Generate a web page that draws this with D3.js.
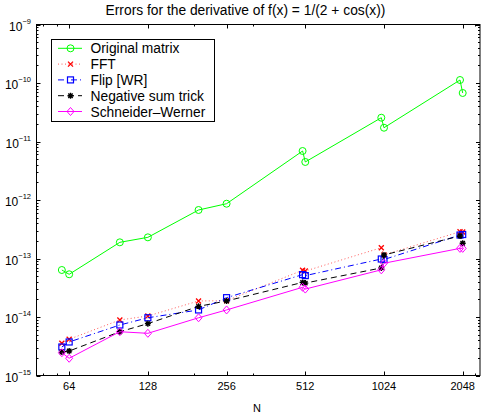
<!DOCTYPE html>
<html>
  <head>
    <title>Errors for the derivative</title>
    <script src="https://d3js.org/d3.v7.min.js"></script>
    <style>
      body { margin: 0; background: white; }
      svg { display: block; font-family: "Liberation Sans", Arial, sans-serif; }
    </style>
  </head>
  <body>
    <script>
      // matrix sizes
      const sizes = [60, 64, 100, 128, 200, 256, 500, 512, 1000, 1024, 2000, 2048];

      // errors
      const originalMatrix = [6.36e-14, 5.37e-14, 1.89e-13, 2.30e-13, 6.75e-13, 8.64e-13, 6.88e-12, 4.47e-12, 2.55e-11, 1.72e-11, 1.125e-10, 6.75e-11];
      const fft = [3.55e-15, 4.16e-15, 8.9e-15, 1.04e-14, 1.88e-14, 1.90e-14, 6.3e-14, 6.1e-14, 1.53e-13, 1.15e-13, 2.87e-13, 2.83e-13];
      const flipWR = [3.07e-15, 3.74e-15, 7.3e-15, 9.7e-15, 1.32e-14, 2.14e-14, 5.3e-14, 5.1e-14, 9.8e-14, 9.6e-14, 2.52e-13, 2.57e-13];
      const negSum = [2.52e-15, 2.62e-15, 5.6e-15, 7.7e-15, 1.52e-14, 1.88e-14, 3.9e-14, 3.8e-14, 6.9e-14, 1.15e-13, 2.43e-13, 1.82e-13];
      const schneiderWerner = [2.45e-15, 1.97e-15, 5.6e-15, 5.26e-15, 9.7e-15, 1.32e-14, 3.22e-14, 3.0e-14, 6.4e-14, 8.3e-14, 1.49e-13, 1.49e-13];

      const seriesNames = ['Original matrix', 'FFT', 'Flip [WR]', 'Negative sum trick', 'Schneider\u2013Werner'];
      const xTicks = [64, 128, 256, 512, 1024, 2048];
      const xMinorTicks = [51, 57.4, 192, 322, 2290];
      const yExponents = [-9, -10, -11, -12, -13, -14, -15];

      const w = 481, h = 417;
      const mLeft = 36.5, mRight = 480, mTop = 24.5, mBottom = 375.5;

      const styles = [
        { color: '#00ff00', dash: null, marker: 'circle', width: 1 },
        { color: '#ff3030', dash: '1,2.5', marker: 'x', width: 0.8 },
        { color: '#0000ff', dash: '6,3,1,3', marker: 'square', width: 1 },
        { color: '#000000', dash: '6,4', marker: 'star', width: 1 },
        { color: '#ff00ff', dash: null, marker: 'diamond', width: 1 }
      ];
      const allSeries = [originalMatrix, fft, flipWR, negSum, schneiderWerner];

      const svg = d3.select('body').append('svg')
                    .attr('width', w)
                    .attr('height', h);

      const x = d3.scaleLog().base(2).domain([48, 2385]).range([mLeft, mRight]);
      const y = d3.scaleLog().domain([1e-15, 1e-9]).range([mBottom, mTop]);

      // frame
      svg.append('rect')
         .attr('x', mLeft).attr('y', mTop)
         .attr('width', mRight - mLeft).attr('height', mBottom - mTop)
         .attr('fill', 'none').attr('stroke', 'black').attr('stroke-width', 1);

      // ticks (inward, on all four sides)
      const ticks = svg.append('g').attr('stroke', 'black').attr('stroke-width', 1);
      xTicks.forEach(t => {
        const px = Math.round(x(t)) + 0.5;
        ticks.append('line').attr('x1', px).attr('x2', px).attr('y1', mBottom).attr('y2', mBottom - 4);
        ticks.append('line').attr('x1', px).attr('x2', px).attr('y1', mTop).attr('y2', mTop + 4);
      });
      xMinorTicks.forEach(t => {
        const px = Math.round(x(t)) + 0.5;
        ticks.append('line').attr('x1', px).attr('x2', px).attr('y1', mBottom).attr('y2', mBottom - 2);
        ticks.append('line').attr('x1', px).attr('x2', px).attr('y1', mTop).attr('y2', mTop + 2);
      });
      yExponents.forEach(e => {
        const py = Math.round(y(Math.pow(10, e))) + 0.5;
        ticks.append('line').attr('x1', mLeft).attr('x2', mLeft + 4).attr('y1', py).attr('y2', py);
        ticks.append('line').attr('x1', mRight).attr('x2', mRight - 4).attr('y1', py).attr('y2', py);
        if (e < -9) {
          for (let m = 2; m <= 9; m++) {
            const my = Math.round(y(m * Math.pow(10, e))) + 0.5;
            ticks.append('line').attr('x1', mLeft).attr('x2', mLeft + 2).attr('y1', my).attr('y2', my);
            ticks.append('line').attr('x1', mRight).attr('x2', mRight - 2).attr('y1', my).attr('y2', my);
          }
        }
      });

      // tick labels
      svg.selectAll('.xlabel')
         .data(xTicks)
         .enter()
         .append('text')
         .attr('class', 'xlabel')
         .attr('x', d => x(d))
         .attr('y', 390)
         .attr('text-anchor', 'middle')
         .style('font-size', '11px')
         .text(d => d);

      yExponents.forEach(e => {
        const t = svg.append('text')
                     .attr('x', 31)
                     .attr('y', y(Math.pow(10, e)) + 6)
                     .attr('text-anchor', 'end')
                     .style('font-size', '12px');
        t.append('tspan').text('10');
        t.append('tspan').attr('dy', -7).style('font-size', '7.5px').text('\u2212' + Math.abs(e));
      });

      svg.append('text')
         .attr('x', 257).attr('y', 412)
         .attr('text-anchor', 'middle')
         .style('font-size', '11px')
         .text('N');

      svg.append('text')
         .attr('x', 245.5).attr('y', 15)
         .attr('text-anchor', 'middle')
         .style('font-size', '13.8px')
         .text('Errors for the derivative of f(x) = 1/(2 + cos(x))');

      // markers
      function drawMarker(g, kind, cx, cy, color) {
        if (kind === 'circle') {
          g.append('circle').attr('cx', cx).attr('cy', cy).attr('r', 3.5)
           .attr('fill', 'none').attr('stroke', color);
        } else if (kind === 'x') {
          g.append('path').attr('d', `M${cx-2.5},${cy-2.5}L${cx+2.5},${cy+2.5}M${cx-2.5},${cy+2.5}L${cx+2.5},${cy-2.5}`)
           .attr('stroke', '#ff0000').attr('stroke-width', 1.3);
        } else if (kind === 'square') {
          g.append('rect').attr('x', cx - 3).attr('y', cy - 3).attr('width', 6).attr('height', 6)
           .attr('fill', 'none').attr('stroke', color).attr('stroke-width', 1.2);
        } else if (kind === 'star') {
          g.append('path').attr('d', `M${cx-3},${cy}L${cx+3},${cy}M${cx},${cy-3}L${cx},${cy+3}M${cx-2.2},${cy-2.2}L${cx+2.2},${cy+2.2}M${cx-2.2},${cy+2.2}L${cx+2.2},${cy-2.2}`)
           .attr('stroke', color).attr('stroke-width', 1.4);
        } else if (kind === 'diamond') {
          g.append('path').attr('d', `M${cx},${cy-4}L${cx+3.5},${cy}L${cx},${cy+4}L${cx-3.5},${cy}Z`)
           .attr('fill', 'none').attr('stroke', color);
        }
      }

      const line = d3.line().x(d => x(d[0])).y(d => y(d[1]));

      allSeries.forEach((vals, i) => {
        const st = styles[i];
        const pts = sizes.map((s, j) => [s, vals[j]]);
        const g = svg.append('g');
        g.append('path')
         .attr('d', line(pts))
         .attr('fill', 'none')
         .attr('stroke', st.color)
         .attr('stroke-width', st.width)
         .attr('stroke-dasharray', st.dash);
        pts.forEach(p => drawMarker(g, st.marker, x(p[0]), y(p[1]), st.color));
      });

      // legend
      const lg = svg.append('g');
      lg.append('rect')
        .attr('x', 51.5).attr('y', 39.5).attr('width', 163).attr('height', 82)
        .attr('fill', 'white').attr('stroke', 'black');
      seriesNames.forEach((name, i) => {
        const cy = 48.3 + i * 15.8;
        const st = styles[i];
        lg.append('line').attr('x1', 58).attr('x2', 82).attr('y1', cy).attr('y2', cy)
          .attr('stroke', st.color).attr('stroke-width', st.width).attr('stroke-dasharray', st.dash);
        drawMarker(lg, st.marker, 70.5, cy, st.color);
        lg.append('text').attr('x', 90.5).attr('y', cy + 5)
          .style('font-size', '13.8px').text(name);
      });
    </script>
  </body>
</html>
